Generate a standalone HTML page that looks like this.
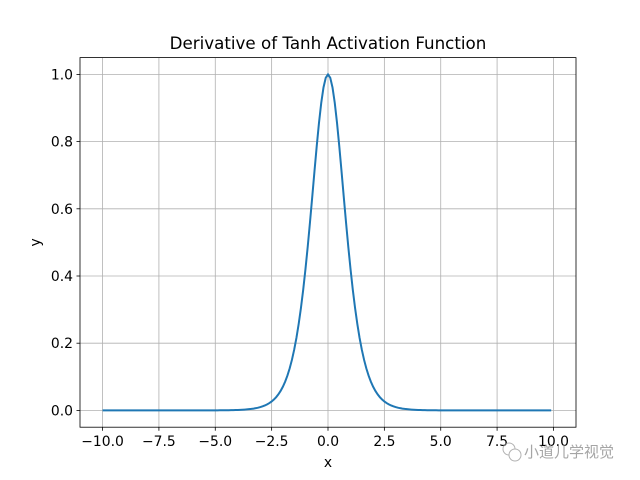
<!DOCTYPE html>
<html><head><meta charset="utf-8"><style>
html,body{margin:0;padding:0;background:#fff;width:640px;height:480px;overflow:hidden}
text{font-family:"DejaVu Sans","Liberation Sans",sans-serif;fill:#000}
</style></head><body>
<svg id="s" width="640" height="480" xmlns="http://www.w3.org/2000/svg">
<rect width="640" height="480" fill="#fff"/>
<g id="grid" stroke="#b0b0b0" stroke-width="0.8"></g>
<path id="curve" fill="none" stroke="#1f77b4" stroke-width="2"/>
<rect x="80" y="57.6" width="496" height="369.6" fill="none" stroke="#000" stroke-width="0.8"/>
<g id="ticks" stroke="#000" stroke-width="0.8"></g>
<g id="labels" font-size="13.9px"></g>
<text x="328" y="49" font-size="16.7px" text-anchor="middle">Derivative of Tanh Activation Function</text>
<text x="328" y="467" font-size="13.9px" text-anchor="middle">x</text>
<text x="0" y="0" font-size="13.9px" text-anchor="middle" transform="translate(40,242.4) rotate(-90)">y</text>
<g opacity="0.75">
<circle cx="509" cy="449" r="6" fill="none" stroke="#999" stroke-width="1"/>
<circle cx="515" cy="455" r="6" fill="#fff" stroke="#999" stroke-width="1"/>
<text x="524" y="457" font-size="15px" style="font-family:'Liberation Sans','Noto Sans CJK SC',sans-serif;fill:#888">小道儿学视觉</text>
</g>
</svg>
<script>
var X=function(v){return 80+(v+11)*496/22};
var Y=function(v){return 427.2-(v+0.05)*369.6/1.1};
var g=document.getElementById('grid'),t=document.getElementById('ticks'),l=document.getElementById('labels');
var ns="http://www.w3.org/2000/svg";
function el(p,n,a,txt){var e=document.createElementNS(ns,n);for(var k in a)e.setAttribute(k,a[k]);if(txt)e.textContent=txt;p.appendChild(e);}
var xs=[-10,-7.5,-5,-2.5,0,2.5,5,7.5,10];
xs.forEach(function(v){var x=X(v);el(g,'line',{x1:x,x2:x,y1:57.6,y2:427.2});el(t,'line',{x1:x,x2:x,y1:427.2,y2:430.7});
el(l,'text',{x:x,y:446,'text-anchor':'middle'},(v<0?'\u2212':'')+Math.abs(v).toFixed(1));});
[0,0.2,0.4,0.6,0.8,1.0].forEach(function(v){var y=Y(v);el(g,'line',{x1:80,x2:576,y1:y,y2:y});el(t,'line',{x1:76.5,x2:80,y1:y,y2:y});
el(l,'text',{x:73,y:y+5,'text-anchor':'end'},v.toFixed(1));});
var d='';for(var i=0;i<200;i++){var x=-10+i*0.1;var th=Math.tanh(x);var y=1-th*th;d+=(i?'L':'M')+X(x).toFixed(2)+' '+Y(y).toFixed(2);}
document.getElementById('curve').setAttribute('d',d);
</script>
</body></html>
